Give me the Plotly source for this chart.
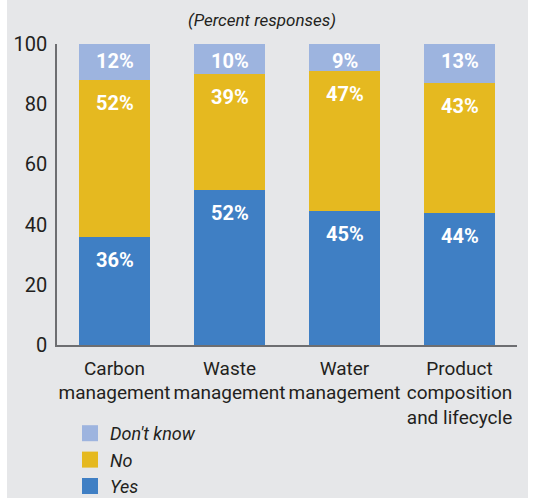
import plotly.graph_objects as go

categories = ["Carbon<br>management", "Waste<br>management", "Water<br>management",
              "Product<br>composition<br>and lifecycle"]
yes = [36, 52, 45, 44]
no = [52, 39, 47, 43]
dont_know = [12, 10, 9, 13]

c_yes = "#3F7FC4"
c_no = "#E5B920"
c_dk = "#9DB4DF"
bg = "#E6E7E9"
font = "Liberation Sans Narrow, Roboto, sans-serif"

fig = go.Figure()
for name, vals, col in [("Yes", yes, c_yes), ("No", no, c_no), ("Don't know", dont_know, c_dk)]:
    fig.add_trace(go.Bar(x=categories, y=vals, name=name, marker_color=col, marker_line_width=0,
                         showlegend=False, hoverinfo="skip"))

# legend proxies (bigger squares than the bar legend symbol)
for name, col in [("Yes", c_yes), ("No", c_no), ("Don't know", c_dk)]:
    fig.add_trace(go.Scatter(x=[None], y=[None], mode="markers", name=name,
                             marker=dict(symbol="square", size=18, color=col)))

# value labels, hung just below the top of each (normalised) segment
labels = []
for i, cat in enumerate(categories):
    tot = yes[i] + no[i] + dont_know[i]
    tops = [yes[i] / tot * 100, (yes[i] + no[i]) / tot * 100, 100]
    for v, top, shift in zip([yes[i], no[i], dont_know[i]], tops, [-23, -23, -17]):
        labels.append(dict(x=cat, y=top, text=f"{v}%", showarrow=False, yanchor="middle",
                           yshift=shift, font=dict(color="white", size=20, weight="bold")))

labels.append(dict(text="(Percent responses)", xref="paper", yref="paper",
                   x=(262 - 57) / 460, y=(345 - 20) / 301, xanchor="center", yanchor="middle",
                   showarrow=False, font=dict(size=17, style="italic")))

fig.update_layout(
    width=537, height=498,
    barmode="stack", barnorm="percent", bargap=0.39,
    paper_bgcolor=bg, plot_bgcolor=bg,
    margin=dict(l=57, r=20, t=44, b=153, autoexpand=False),
    font=dict(family=font, size=19, color="#231F20"),
    annotations=labels,
    legend=dict(orientation="v", traceorder="reversed", x=(70 - 57) / 460, y=(345 - 415) / 301,
                xanchor="left", yanchor="top", bgcolor="rgba(0,0,0,0)",
                font=dict(size=18, style="italic"), itemwidth=30, tracegroupgap=0),
    shapes=[
        dict(type="rect", xref="paper", yref="paper", x0=-57 / 460, x1=-50 / 460,
             y0=-153 / 301, y1=1 + 44 / 301, fillcolor="white", line_width=0, layer="below"),
        dict(type="rect", xref="paper", yref="paper", x0=1 + 11 / 460, x1=1 + 20 / 460,
             y0=-153 / 301, y1=1 + 44 / 301, fillcolor="white", line_width=0, layer="below"),
    ],
)
fig.update_xaxes(range=[-0.5, 3.5], showline=True, linecolor="#6D6E71", linewidth=1.5,
                 ticks="", showgrid=False, tickangle=0, automargin=False,
                 ticklabelstandoff=5, tickfont=dict(size=19))
fig.update_yaxes(range=[0, 100], tickvals=[0, 20, 40, 60, 80, 100], showline=True,
                 linecolor="#6D6E71", linewidth=1.5, ticks="", showgrid=False, zeroline=False,
                 automargin=False, ticklabelstandoff=4, tickfont=dict(size=20))

fig.write_html("out.html", config={"displayModeBar": False},
               post_script="document.body.style.margin='0';")
